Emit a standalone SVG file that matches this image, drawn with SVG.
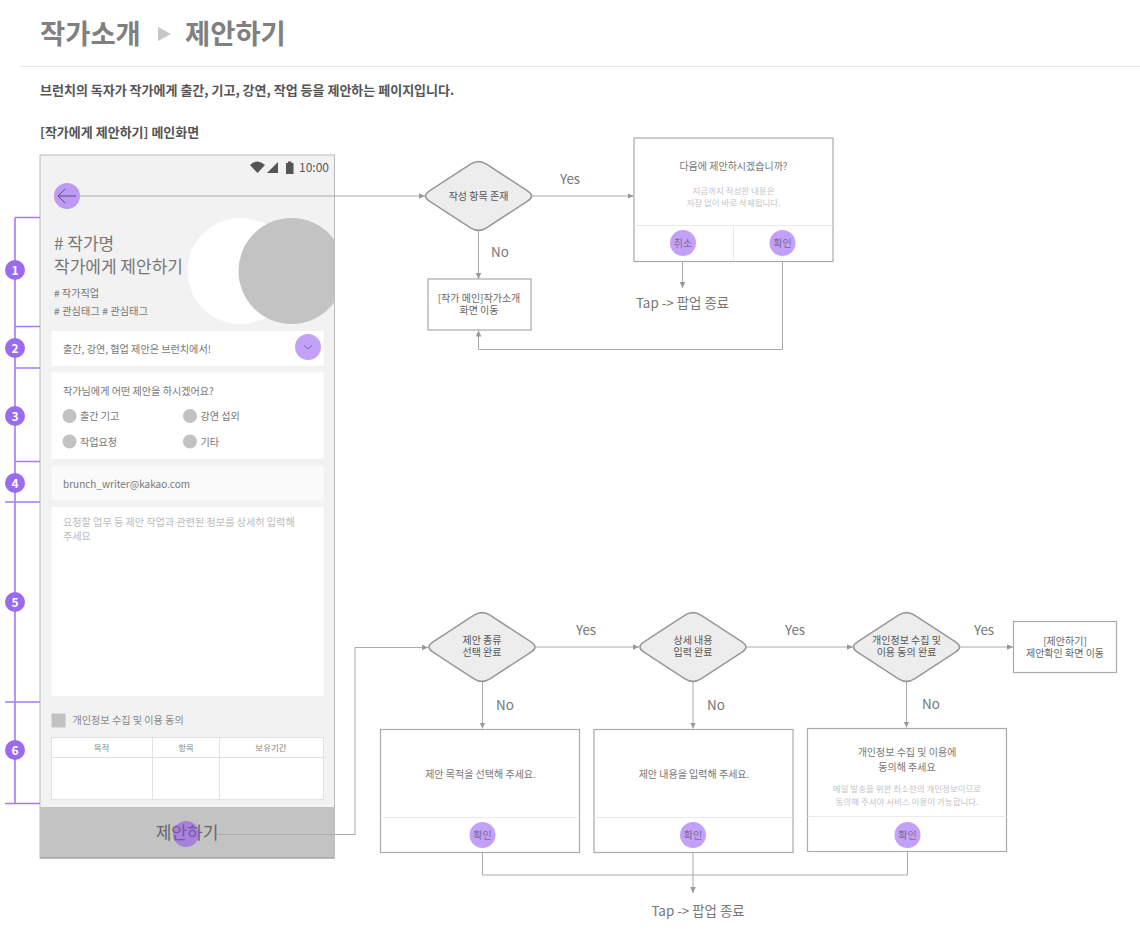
<svg xmlns="http://www.w3.org/2000/svg" xmlns:xlink="http://www.w3.org/1999/xlink" width="1140" height="936" viewBox="0 0 1140 936">
<style>
text{font-family:"Noto Sans CJK KR","Noto Sans",sans-serif;fill:#777}
.m{text-anchor:middle}
.d{fill:#ededed;stroke:#999;stroke-width:1.6}
.box{fill:#fff;stroke:#aaa;stroke-width:1.2}
.div{stroke:#eaeaea;stroke-width:1;fill:none}
.c{fill:none;stroke:#aaa;stroke-width:1;marker-end:url(#a)}
.cn{fill:none;stroke:#aaa;stroke-width:1}
.p{fill:#8a44f2;fill-opacity:.5}
.br{stroke:#a47bf5;stroke-width:1.6;fill:none}
.n{fill:#9a6af0}
.nt{fill:#fff;font-size:12px;font-weight:700;text-anchor:middle}
.t10{font-size:10.100px}
.t9{font-size:8.500px;fill:#c4c4c4;text-anchor:middle}
.yn{font-size:13.400px;fill:#777;text-anchor:middle}
.g{fill:#c2c2c2}
.dt{font-size:10px;fill:#555;text-anchor:middle}
</style>
<defs>
<marker id="a" markerWidth="7" markerHeight="6" refX="6" refY="3" orient="auto" markerUnits="userSpaceOnUse"><path d="M0,0.2L6,3L0,5.8Z" fill="#999"/></marker>
<path id="dia" d="M-8,-31.800Q0,-37 8,-31.800L49,-5.200Q57,0 49,5.200L8,31.800Q0,37 -8,31.800L-49,5.200Q-57,0 -49,-5.200Z"/>
<clipPath id="ph"><rect x="40" y="155" width="294.500" height="703"/></clipPath>
</defs>

<g id="header">
<text x="40" y="44" font-size="27.400" font-weight="700" style="fill:#808080">작가소개</text>
<polygon points="158,27 171,34 158,41" fill="#c8c8c8"/>
<text x="185" y="44" font-size="27.400" font-weight="700" style="fill:#808080">제안하기</text>
<line x1="20" y1="66.500" x2="1140" y2="66.500" stroke="#e6e6e6"/>
<text x="40" y="95" font-size="13" font-weight="700" style="fill:#555">브런치의 독자가 작가에게 출간, 기고, 강연, 작업 등을 제안하는 페이지입니다.</text>
<text x="40" y="137" font-size="13" font-weight="700" style="fill:#555">[작가에게 제안하기] 메인화면</text>
</g>

<g id="phone">
<rect x="40" y="155" width="294.500" height="703" fill="#f2f2f2" stroke="#bbb" stroke-width="1"/>
<g clip-path="url(#ph)">
<circle cx="240.500" cy="271" r="53" fill="#fff"/>
<circle cx="291.500" cy="271" r="53" fill="#c3c3c3"/>
</g>
<path d="M250,165Q257.500,158 265,165L257.500,173Z" fill="#555"/>
<polygon points="267,173 278,173 278,162" fill="#555"/>
<rect x="286" y="163" width="7.500" height="11" fill="#555"/>
<rect x="288" y="161.500" width="3.500" height="2" fill="#555"/>
<text x="299" y="172" font-size="12" style="fill:#555">10:00</text>
<text x="54" y="250" font-size="17">  # 작가명</text>
<text x="54" y="273" font-size="17">작가에게 제안하기</text>
<text x="54" y="297" class="t10"># 작가직업</text>
<text x="54" y="314.500" class="t10" textLength="94"># 관심태그 # 관심태그</text>

<rect x="51.500" y="331" width="272" height="35" fill="#fff"/>
<text x="63" y="353" class="t10">출간, 강연, 협업 제안은 브런치에서!</text>

<rect x="51.500" y="372.500" width="272" height="86.500" fill="#fff"/>
<text x="63" y="394.500" class="t10">작가님에게 어떤 제안을 하시겠어요?</text>
<circle cx="69.500" cy="416" r="7" class="g"/><text x="80" y="420" class="t10">출간 기고</text>
<circle cx="190" cy="416" r="7" class="g"/><text x="200.500" y="420" class="t10">강연 섭외</text>
<circle cx="69.500" cy="441.500" r="7" class="g"/><text x="80" y="446" class="t10">작업요청</text>
<circle cx="190" cy="441.500" r="7" class="g"/><text x="200.500" y="446" class="t10">기타</text>

<rect x="51.500" y="465.500" width="272" height="34.500" fill="#fafafa"/>
<text x="63" y="488" font-size="10" style="fill:#777">brunch_writer@kakao.com</text>

<rect x="51.500" y="507" width="272" height="189" fill="#fff"/>
<text x="63" y="525.500" class="t10" style="fill:#bbb">요청할 업무 등 제안 작업과 관련된 정보를 상세히 입력해</text>
<text x="63" y="540" class="t10" style="fill:#bbb">주세요</text>

<rect x="51.500" y="713.500" width="14" height="14" class="g"/>
<text x="72.500" y="724" class="t10" style="fill:#888">개인정보 수집 및 이용 동의</text>
<rect x="51.500" y="737.500" width="272" height="62" fill="#fff" stroke="#e2e2e2"/>
<path d="M51.500,757.500H323.500M152.500,737.500V799.500M219.500,737.500V799.500" fill="none" stroke="#e2e2e2"/>
<text x="101.500" y="751" font-size="8.500" text-anchor="middle" style="fill:#888">목적</text>
<text x="186" y="751" font-size="8.500" text-anchor="middle" style="fill:#888">항목</text>
<text x="271" y="751" font-size="8.500" text-anchor="middle" style="fill:#888">보유기간</text>

<rect x="40" y="807" width="294.500" height="51" fill="#c3c3c3"/>
<line x1="40" y1="858" x2="334.500" y2="858" stroke="#999"/>
<text x="187" y="839" font-size="17" text-anchor="middle" style="fill:#666">제안하기</text>
</g>

<g id="connectors">
<path class="c" d="M80,196H425"/>
<path class="c" d="M478.500,231V279"/>
<path class="c" d="M532,196H633.500"/>
<path class="c" d="M682.500,256V288"/>
<path class="c" d="M782.500,256V349.500H478.500V330.500"/>
<path class="c" d="M217,834.500H355V647.500H428"/>
<path class="c" d="M536,647H639"/>
<path class="c" d="M747,647H853"/>
<path class="c" d="M960,647H1013"/>
<path class="c" d="M482.500,682V728.500"/>
<path class="c" d="M693,682V728.500"/>
<path class="c" d="M906.500,682V727.500"/>
<path class="cn" d="M482.500,848V875H907.500V848"/>
<path class="c" d="M693,848V893"/>
</g>

<g id="back-btn">
<circle cx="67" cy="196" r="13" class="p"/>
<path d="M76,196H58M65,189L58,196L65,203" fill="none" stroke="#5c4a80" stroke-width="1"/>
</g>
<g id="toggle-btn">
<circle cx="308" cy="347" r="13" class="p"/>
<path d="M304,345.500L308,349L312,345.500" fill="none" stroke="#6a55a0" stroke-width=".8"/>
</g>
<g id="submit-hotspot"><circle cx="186" cy="834" r="13" class="p"/></g>

<g id="annotations">
<path class="br" d="M15,217.500V803.500M15,217.500H40M15,326.500H40M15,368H40M15,461.500H40M5,502H40M5,702H40M5,803.500H40"/>
<circle cx="15" cy="270" r="10" class="n"/><text x="15" y="274.500" class="nt">1</text>
<circle cx="15" cy="348" r="10" class="n"/><text x="15" y="352.500" class="nt">2</text>
<circle cx="15" cy="416" r="10" class="n"/><text x="15" y="420.500" class="nt">3</text>
<circle cx="15" cy="483" r="10" class="n"/><text x="15" y="487.500" class="nt">4</text>
<circle cx="15" cy="602" r="10" class="n"/><text x="15" y="606.500" class="nt">5</text>
<circle cx="15" cy="750" r="10" class="n"/><text x="15" y="754.500" class="nt">6</text>
</g>

<g id="d1"><use xlink:href="#dia" href="#dia" x="478.500" y="196" class="d"/><text x="478.500" y="199.500" class="dt">작성 항목 존재</text></g>
<g id="popup-next">
<rect x="634" y="138" width="199" height="123.500" class="box"/>
<path class="div" d="M634,225.500H833M733.500,225.500V261"/>
<text x="733.500" y="170" class="m" font-size="10">다음에 제안하시겠습니까?</text>
<text x="733.500" y="193.500" class="t9">지금까지 작성한 내용은</text>
<text x="733.500" y="206" class="t9">저장 없이 바로 삭제됩니다.</text>
<circle cx="683" cy="243" r="13" class="p"/><text x="683" y="247" class="m" font-size="10" style="fill:#7a6a90">취소</text>
<circle cx="782.500" cy="243" r="13" class="p"/><text x="782.500" y="247" class="m" font-size="10" style="fill:#7a6a90">확인</text>
</g>
<g id="move-author">
<rect x="428" y="279" width="103" height="51" class="box"/>
<text x="479" y="302" class="m" font-size="10" style="fill:#666">[작가 메인]작가소개</text>
<text x="479" y="314" class="m" font-size="10" style="fill:#666">화면 이동</text>
</g>
<g id="labels">
<text x="570" y="184" class="yn">Yes</text>
<text x="500" y="256.500" class="yn">No</text>
<text x="682.500" y="307.500" class="yn">Tap -&gt; 팝업 종료</text>
<text x="586" y="634.500" class="yn">Yes</text>
<text x="795" y="634.500" class="yn">Yes</text>
<text x="984" y="634.500" class="yn">Yes</text>
<text x="505" y="709.500" class="yn">No</text>
<text x="716" y="709.500" class="yn">No</text>
<text x="931" y="708.500" class="yn">No</text>
<text x="698" y="916" class="yn">Tap -&gt; 팝업 종료</text>
</g>
<g id="d2"><use xlink:href="#dia" href="#dia" x="482" y="647" class="d"/><text x="482" y="644" class="dt">제안 종류</text><text x="482" y="656" class="dt">선택 완료</text></g>
<g id="d3"><use xlink:href="#dia" href="#dia" x="693" y="647" class="d"/><text x="693" y="644" class="dt">상세 내용</text><text x="693" y="656" class="dt">입력 완료</text></g>
<g id="d4"><use xlink:href="#dia" href="#dia" x="906.500" y="647" class="d"/><text x="906.500" y="644" class="dt">개인정보 수집 및</text><text x="906.500" y="656" class="dt">이용 동의 완료</text></g>
<g id="move-confirm">
<rect x="1013.500" y="621.500" width="103" height="51" class="box"/>
<text x="1065" y="644.500" class="m" font-size="10" style="fill:#666">[제안하기]</text>
<text x="1065" y="657" class="m" font-size="10" style="fill:#666">제안확인 화면 이동</text>
</g>
<g id="popup-purpose">
<rect x="380.500" y="729.500" width="199" height="123" class="box"/>
<path class="div" d="M380.500,817.500H579.500"/>
<text x="480.500" y="778" class="m" font-size="10">제안 목적을 선택해 주세요.</text>
<circle cx="482.500" cy="835" r="13" class="p"/><text x="482.500" y="839" class="m" font-size="10" style="fill:#7a6a90">확인</text>
</g>
<g id="popup-detail">
<rect x="594" y="729.500" width="199" height="123" class="box"/>
<path class="div" d="M594,817.500H793"/>
<text x="694" y="778" class="m" font-size="10">제안 내용을 입력해 주세요.</text>
<circle cx="693" cy="835" r="13" class="p"/><text x="693" y="839" class="m" font-size="10" style="fill:#7a6a90">확인</text>
</g>
<g id="popup-agree">
<rect x="807.500" y="728.500" width="199" height="123" class="box"/>
<path class="div" d="M807.500,816.500H1006.500"/>
<text x="907" y="756" class="m" font-size="10">개인정보 수집 및 이용에</text>
<text x="907" y="771" class="m" font-size="10">동의해 주세요</text>
<text x="907" y="792" class="t9">메일 발송을 위한 최소한의 개인정보이므로</text>
<text x="907" y="804.500" class="t9">동의해 주셔야 서비스 이용이 가능합니다.</text>
<circle cx="907.500" cy="835" r="13" class="p"/><text x="907.500" y="839" class="m" font-size="10" style="fill:#7a6a90">확인</text>
</g>
</svg>
